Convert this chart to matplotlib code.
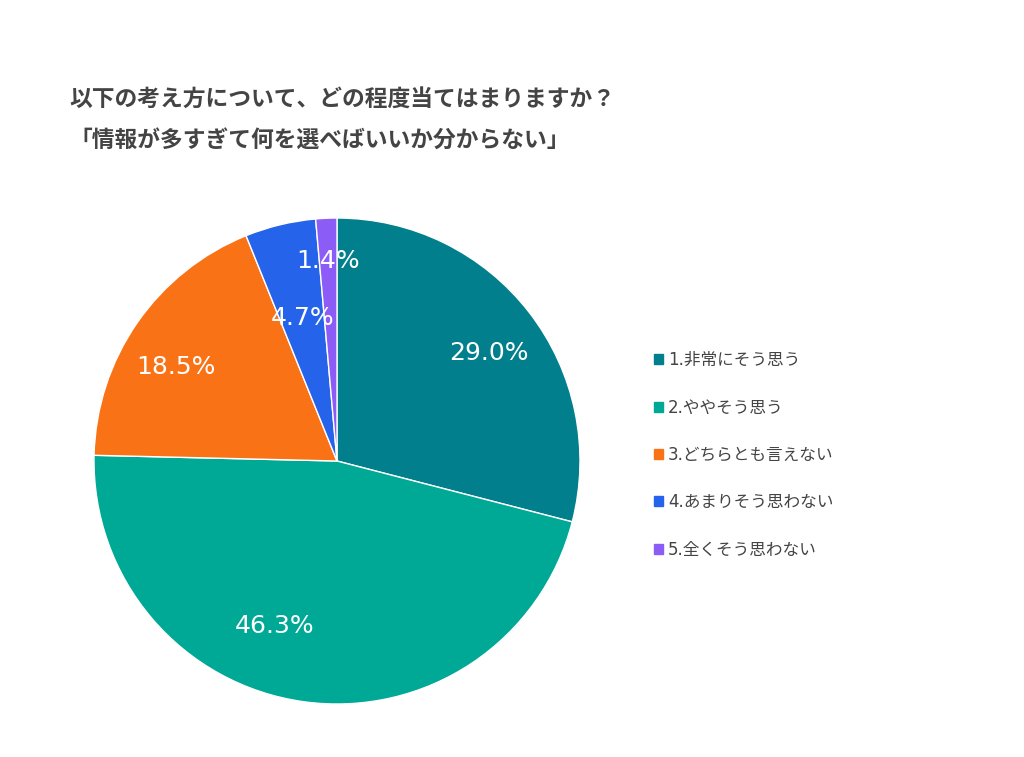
import matplotlib
matplotlib.use("Agg")
import matplotlib.pyplot as plt
import numpy as np
from matplotlib.patches import Patch

plt.rcParams['font.family'] = ['Noto Sans CJK JP', 'DejaVu Sans']

categories = ["1.非常にそう思う", "2.ややそう思う", "3.どちらとも言えない", "4.あまりそう思わない", "5.全くそう思わない"]
values = [29.0, 46.3, 18.5, 4.7, 1.4]
colors = ["#027F8C", "#00A896", "#F97316", "#2563EB", "#8B5CF6"]
label_radius = [0.77, 0.72, 0.77, 0.61, 0.83]
label_angle_shift = [-2, -13, 4, 0, 0]

title_lines = ["以下の考え方について、どの程度当てはまりますか？", "「情報が多すぎて何を選べばいいか分からない」"]

fig = plt.figure(figsize=(10.24, 7.57), dpi=100)
ax = fig.add_axes([0.0918, 0.070, 0.4746, 0.642])
wedges, _ = ax.pie(values, colors=colors, startangle=90, counterclock=False,
                   wedgeprops=dict(edgecolor="white", linewidth=1.0))
ax.set_aspect('equal')
ax.set_xlim(-1, 1)
ax.set_ylim(-1, 1)

total = sum(values)
cum = 0
for i, v in enumerate(values):
    mid = 90 - (cum + v / 2) / total * 360 + label_angle_shift[i]
    cum += v
    r = label_radius[i]
    x = r * np.cos(np.radians(mid))
    y = r * np.sin(np.radians(mid)) - 0.006
    ax.text(x, y, f"{v:.1f}%", ha="center", va="center", color="white", fontsize=18,
            family=['DejaVu Sans'])

fig.text(0.068, 0.868, title_lines[0], fontsize=16.4, fontweight="bold", color="#444444", va="center")
fig.text(0.068, 0.815, title_lines[1], fontsize=16.4, fontweight="bold", color="#444444", va="center")

handles = [Patch(facecolor=c, edgecolor=c) for c in colors]
leg = fig.legend(handles, categories, loc="upper left", bbox_to_anchor=(0.624, 0.556),
                 frameon=False, labelspacing=1.76, handlelength=0.55,
                 handleheight=0.55, handletextpad=0.3, labelcolor="#444444",
                 prop=dict(family=['DejaVu Sans', 'Noto Sans CJK JP'], size=12))

fig.savefig("out.png", dpi=100, facecolor="white")
